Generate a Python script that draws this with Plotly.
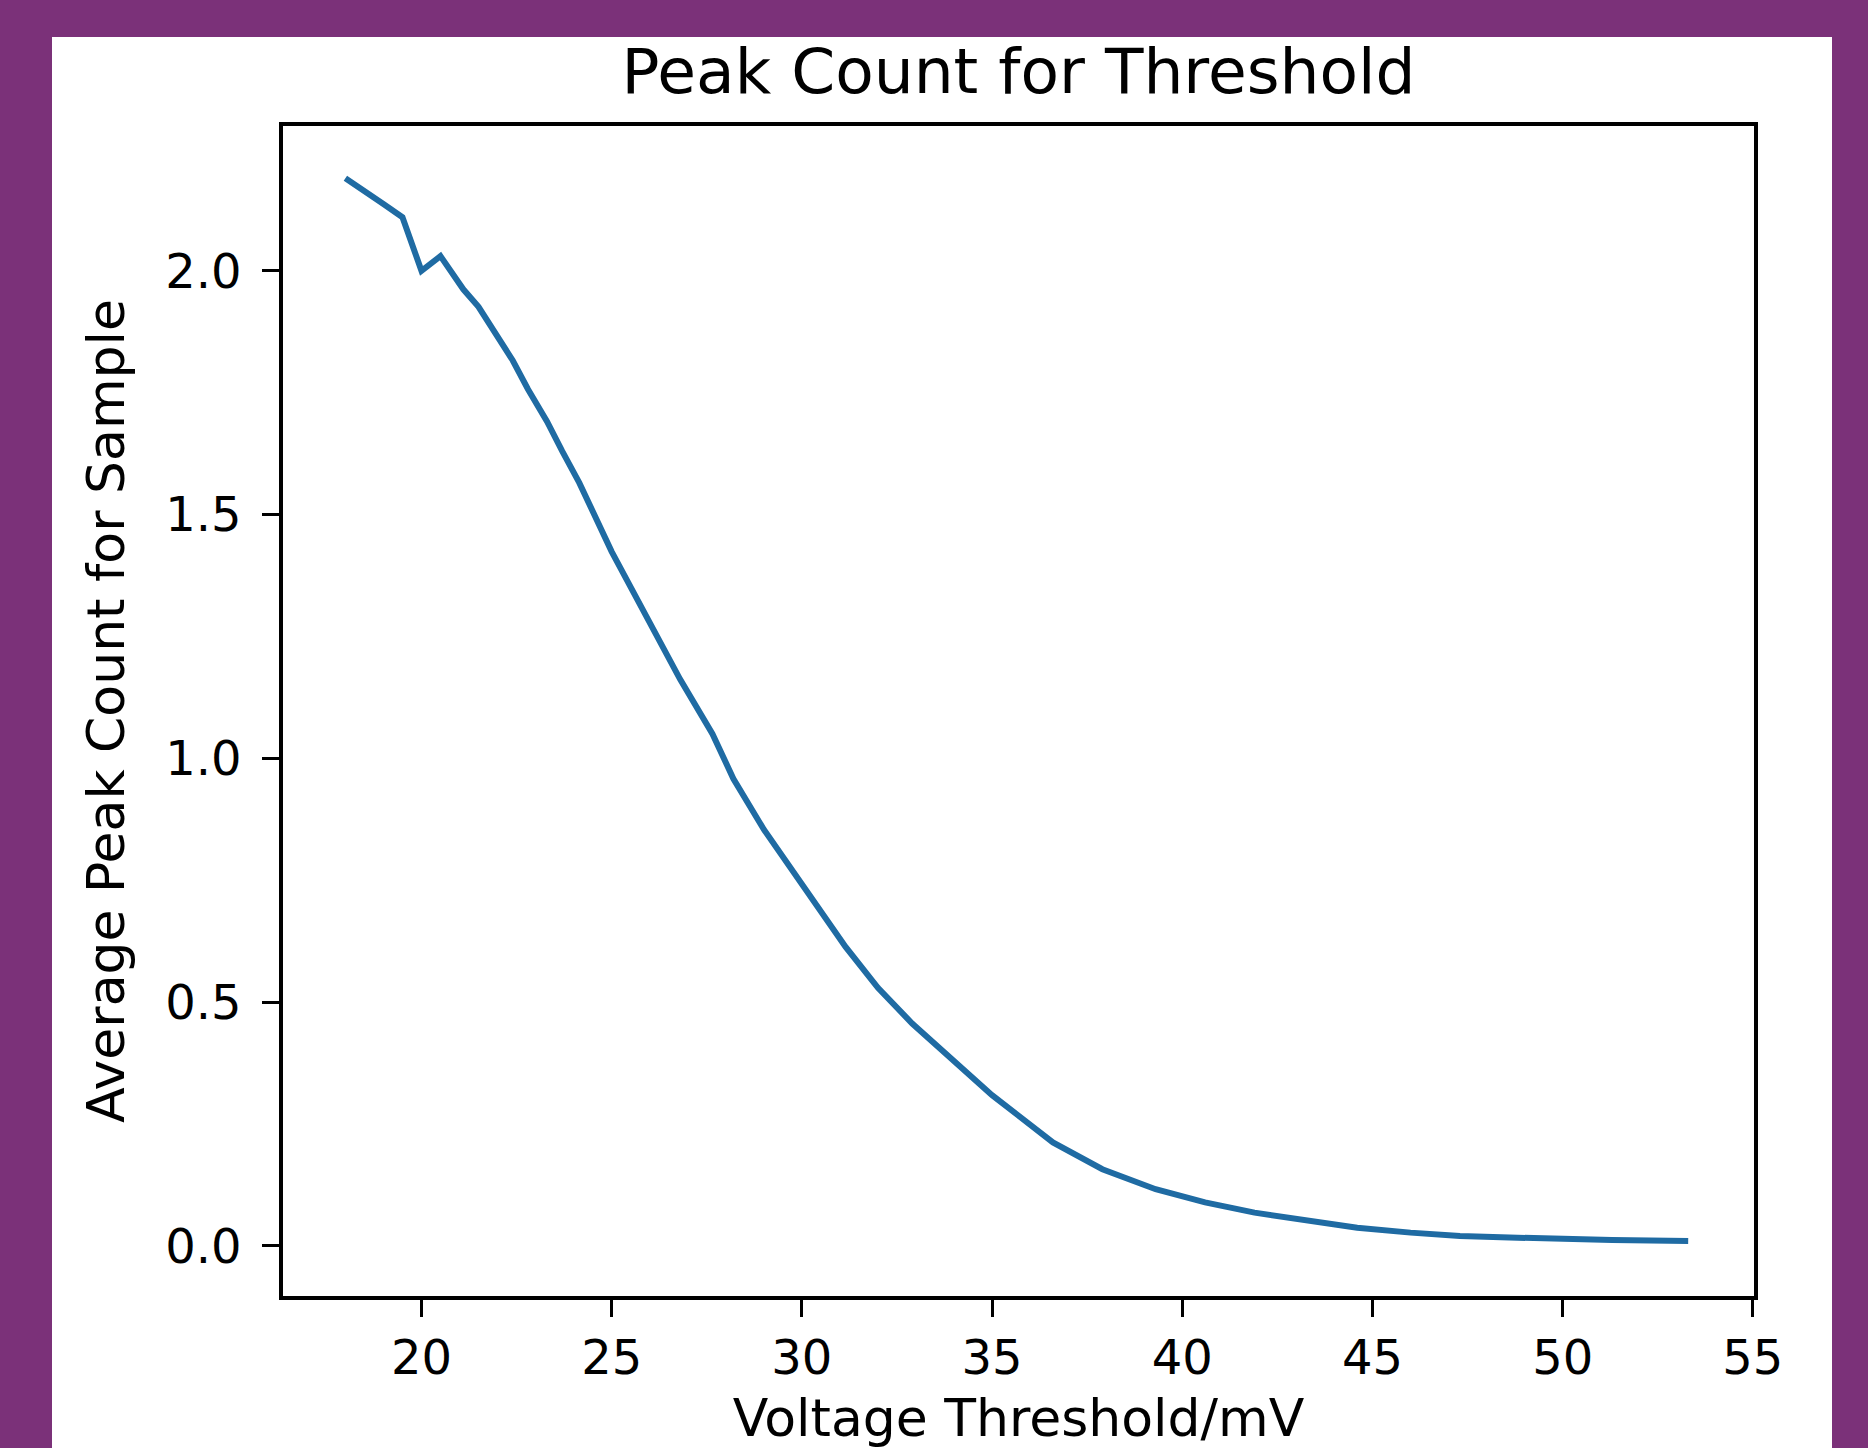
import plotly.graph_objects as go

# ---- data ----
threshold_mv = [18.0, 18.5, 19.0, 19.5, 20.0, 20.5, 21.1, 21.5, 22.0, 22.4, 22.8,
                23.3, 23.7, 24.15, 25.0, 25.9, 26.8, 27.65, 28.2, 29.0, 30.3,
                31.15, 32.0, 32.9, 33.8, 35.0, 36.6, 37.9, 39.3, 40.6, 41.9,
                43.3, 44.6, 46.0, 47.3, 48.6, 50.0, 51.3, 53.3]
avg_peak_count = [2.19, 2.165, 2.137, 2.11, 2.0, 2.03, 1.962, 1.926, 1.867, 1.816, 1.757,
                  1.691, 1.63, 1.565, 1.424, 1.293, 1.162, 1.05, 0.958, 0.854, 0.707,
                  0.613, 0.529, 0.456, 0.393, 0.309, 0.212, 0.157, 0.116, 0.089, 0.068,
                  0.051, 0.037, 0.027, 0.020, 0.017, 0.013, 0.012, 0.010]

x_tick_vals = [20, 25, 30, 35, 40, 45, 50, 55]
x_tick_text = ["20", "25", "30", "35", "40", "45", "50", "55"]
y_tick_vals = [0.0, 0.5, 1.0, 1.5, 2.0]
y_tick_text = ["0.0", "0.5", "1.0", "1.5", "2.0"]

title_text = "Peak Count for Threshold"
x_title = "Voltage Threshold/mV"
y_title = "Average Peak Count for Sample"

# ---- layout geometry (pixels) ----
W, H = 1868, 1448
L, R, T, B = 283, 114, 126, 152
PW, PH = W - L - R, H - T - B


def paper_x(px):
    return (px - L) / PW


def paper_y(py):
    return (H - B - py) / PH


FONT = "DejaVu Sans"
PURPLE = "#7B3179"

fig = go.Figure(
    go.Scatter(
        x=threshold_mv,
        y=avg_peak_count,
        mode="lines",
        line=dict(color="#1f6ba3", width=6),
        hoverinfo="x+y",
    )
)

fig.update_layout(
    width=W,
    height=H,
    margin=dict(l=L, r=R, t=T, b=B, autoexpand=False),
    paper_bgcolor=PURPLE,
    plot_bgcolor="white",
    showlegend=False,
    font=dict(family=FONT, color="black"),
    title=dict(
        text=title_text,
        x=0.5,
        xref="paper",
        xanchor="center",
        y=1 - 71 / H,
        yref="container",
        yanchor="middle",
        font=dict(family=FONT, size=63, color="black"),
    ),
    shapes=[
        dict(
            type="rect",
            xref="paper",
            yref="paper",
            x0=paper_x(52),
            x1=paper_x(1832),
            y0=paper_y(H + 20),
            y1=paper_y(37),
            fillcolor="white",
            line=dict(width=0),
            layer="below",
        )
    ],
)

axis_common = dict(
    showline=True,
    linecolor="black",
    linewidth=3.5,
    mirror=True,
    ticks="outside",
    ticklen=17,
    tickwidth=2.5,
    tickcolor="black",
    showgrid=False,
    zeroline=False,
    tickfont=dict(family=FONT, size=48, color="black"),
)

fig.update_xaxes(
    range=[16.36, 55.03],
    tickmode="array",
    tickvals=x_tick_vals,
    ticktext=x_tick_text,
    ticklabelstandoff=0,
    title=dict(text=x_title, font=dict(family=FONT, size=52, color="black"), standoff=48),
    **axis_common,
)
fig.update_yaxes(
    range=[-0.103, 2.297],
    tickmode="array",
    tickvals=y_tick_vals,
    ticktext=y_tick_text,
    ticklabelstandoff=11,
    title=dict(text=y_title, font=dict(family=FONT, size=52, color="black"), standoff=25),
    **axis_common,
)

fig.write_html(
    "out.html",
    config={"displayModeBar": False},
    post_script="document.body.style.margin='0';document.body.style.overflow='hidden';",
)
